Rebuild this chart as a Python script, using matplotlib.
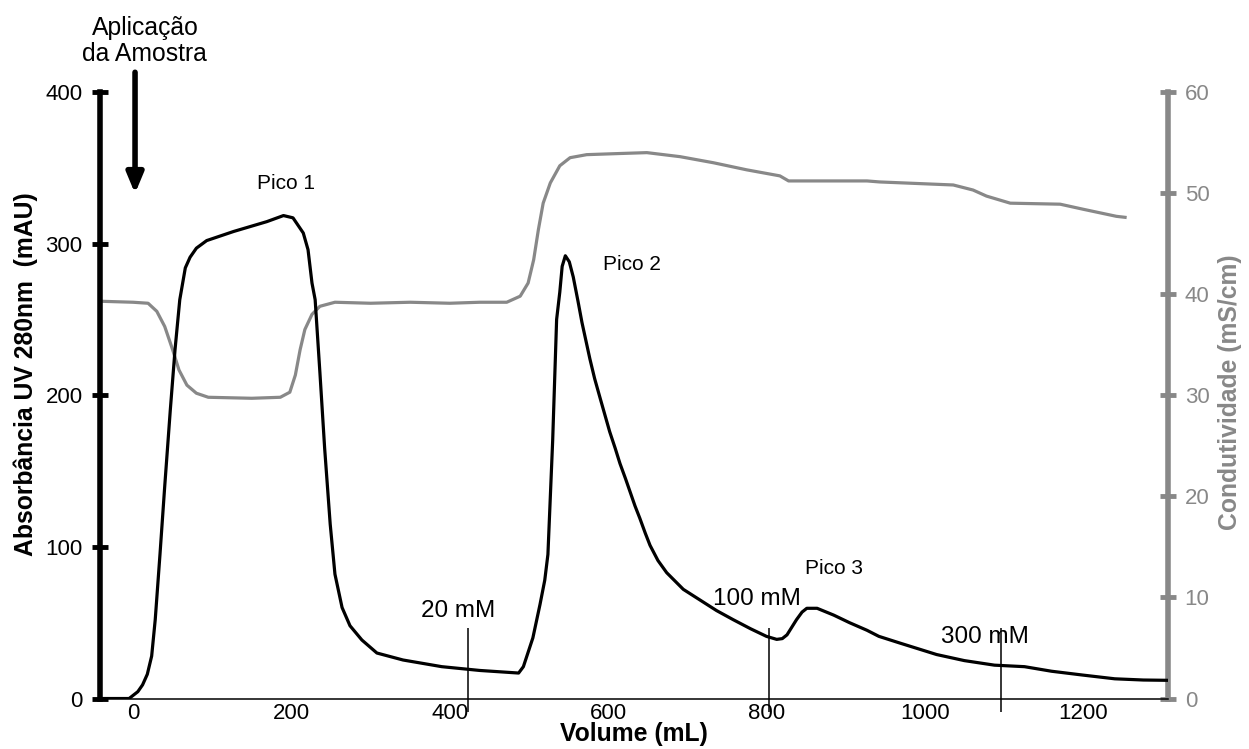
import matplotlib.pyplot as plt

plt.rcParams['font.family'] = ['Liberation Sans', 'DejaVu Sans']

# absorbance UV 280 nm (mAU) vs volume (mL)
vol_uv = [-42, -5, 6, 12, 18, 23.5, 28, 34, 40, 47, 53, 59, 66, 72, 80, 93, 127,
          169, 190, 202, 215, 221, 226, 230, 236, 242, 249, 255, 264, 274, 289,
          308, 341, 390, 438, 487, 493, 505, 514, 520, 524, 530, 535, 539, 542,
          546, 551, 556, 562, 567, 572, 577, 583, 590, 596, 602, 609, 615, 622,
          628, 634, 640, 647, 653, 663, 674, 695, 716, 737, 758, 780, 800, 813,
          820, 826, 838, 845, 851, 864, 885, 905, 927, 942, 969, 1015, 1050,
          1088, 1126, 1160, 1199, 1240, 1276, 1307]
abs_uv = [0, 0, 4.5, 9, 16, 28, 52, 95, 140, 190, 230, 263, 284, 291, 297, 302, 308,
          314.5, 318.5, 317, 307, 296, 274, 263, 215, 165, 115, 82, 60, 48, 38.6,
          30, 25.4, 21, 18.5, 16.8, 21, 40, 62, 78, 95, 170, 250, 268, 285,
          292, 288, 278, 262, 248, 236, 224, 211, 198, 187, 176, 165, 155, 145,
          136, 127, 119, 109, 101, 91, 83, 72, 65, 58, 52, 46, 41, 39,
          39.5, 42, 52, 57, 59.5, 59.5, 55, 50, 45, 41, 36.5, 29, 25,
          22, 21, 18, 15.5, 13, 12.2, 12]

# conductivity (mS/cm) vs volume (mL)
vol_cond = [-42, 0, 19, 30, 40, 50, 58, 68, 80, 95, 150, 186, 198, 205, 211, 217,
            226, 236, 255, 300, 350, 400, 438, 472, 489, 499, 506, 512, 518, 527,
            539, 552, 573, 610, 649, 691, 733, 775, 817, 828, 859, 927, 943, 1036,
            1061, 1078, 1108, 1171, 1200, 1242, 1253]
cond = [39.3, 39.2, 39.1, 38.3, 36.8, 34.5, 32.5, 31, 30.2, 29.8, 29.7, 29.8, 30.3,
        32, 34.5, 36.5, 38, 38.8, 39.2, 39.1, 39.2, 39.1, 39.2, 39.2, 39.8, 41.1,
        43.4, 46.4, 49, 51, 52.7, 53.5, 53.8, 53.9, 54, 53.6, 53, 52.3, 51.7,
        51.2, 51.2, 51.2, 51.1, 50.8, 50.3, 49.7, 49, 48.9, 48.4, 47.7, 47.6]

x_ticks = [0, 200, 400, 600, 800, 1000, 1200]
uv_ticks = [0, 100, 200, 300, 400]
cond_ticks = [0, 10, 20, 30, 40, 50, 60]

step_vol = [423, 803, 1096]
step_names = ['20 mM', '100 mM', '300 mM']
peak_names = ['Pico 1', 'Pico 2', 'Pico 3']

grey = '#888888'

fig = plt.figure(figsize=(12.49, 7.49), dpi=100)
ax = fig.add_axes([0.0801, 0.0674, 0.8551, 0.8098])
ax2 = ax.twinx()
ax.set_zorder(ax2.get_zorder() + 1)
ax.patch.set_visible(False)

ax2.plot(vol_cond, cond, color=grey, lw=2.3)
ax.plot(vol_uv, abs_uv, color='black', lw=2.3)

ax.set_xlim(-41.7, 1307.3)
ax.set_ylim(0, 400)
ax2.set_ylim(0, 60)

for s in ['top', 'right']:
    ax.spines[s].set_visible(False)
ax.spines['left'].set_linewidth(4)
ax.spines['bottom'].set_linewidth(1.1)
for s in ['top', 'left', 'bottom']:
    ax2.spines[s].set_visible(False)
ax2.spines['right'].set_linewidth(4)
ax2.spines['right'].set_color(grey)

ax.set_xticks(x_ticks)
ax.set_yticks(uv_ticks)
ax2.set_yticks(cond_ticks)
ax.tick_params(axis='x', length=0, pad=3, labelsize=16)
ax.tick_params(axis='y', direction='inout', length=11, width=3.5, pad=7, labelsize=16)
ax2.tick_params(axis='y', direction='inout', length=11, width=3.5, pad=6.5,
                labelsize=16, colors=grey)

ax.set_xlabel('Volume (mL)', fontsize=17.8, fontweight='bold', labelpad=-1)
ax.set_ylabel('Absorbância UV 280nm  (mAU)', fontsize=17.8, fontweight='bold')
ax.yaxis.set_label_coords(-0.058, 0.535)
ax2.set_ylabel('Condutividade (mS/cm)', fontsize=17.8, fontweight='bold', color=grey)
ax2.yaxis.set_label_coords(1.047, 0.505)

# step markers of the salt gradient
ax.vlines(step_vol, -9, 46.5, color='black', lw=1.1, clip_on=False)
step_text = [(410, 57.7), (788, 65.6), (1076, 40.6)]
for name, (tx, ty) in zip(step_names, step_text):
    ax.text(tx, ty, name, fontsize=17.5, ha='center', va='center')

peak_text = [(193, 339.7), (630, 286.4), (885, 86)]
for name, (tx, ty) in zip(peak_names, peak_text):
    ax.text(tx, ty, name, fontsize=15, ha='center', va='center')

# sample application arrow
ax.annotate('', xy=(2.5, 333), xytext=(2.5, 413),
            arrowprops=dict(arrowstyle='-|>,head_length=0.6,head_width=0.25',
                            lw=4, color='black', mutation_scale=20,
                            shrinkA=0, shrinkB=0),
            annotation_clip=False)
ax.text(15, 433.7, 'Aplicação\nda Amostra', fontsize=17.8, ha='center', va='center',
        linespacing=1.13, clip_on=False)

fig.savefig('out.png', dpi=100)
